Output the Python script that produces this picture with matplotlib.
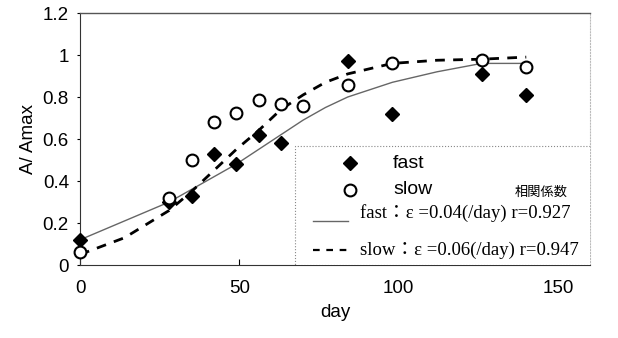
import matplotlib.pyplot as plt
from matplotlib.lines import Line2D
from matplotlib.patches import Rectangle

# measured data (day, A/Amax)
fast_day = [0, 28, 35, 42, 49, 56, 63, 84, 98, 126, 140]
fast_val = [0.12, 0.30, 0.33, 0.53, 0.48, 0.62, 0.58, 0.97, 0.72, 0.91, 0.81]

slow_day = [0, 28, 35, 42, 49, 56, 63, 70, 84, 98, 126, 140]
slow_val = [0.06, 0.32, 0.50, 0.68, 0.725, 0.785, 0.765, 0.757, 0.857, 0.963, 0.976, 0.944]

# fitted curves
fit_day = [0, 14, 28, 35, 42, 49, 56, 63, 70, 77, 84, 98, 112, 126, 140]
fit_fast = [0.12, 0.21, 0.30, 0.36, 0.42, 0.48, 0.55, 0.62, 0.69, 0.75, 0.80, 0.87, 0.92, 0.96, 0.96]
fit_slow = [0.05, 0.13, 0.26, 0.35, 0.45, 0.55, 0.64, 0.74, 0.81, 0.87, 0.91, 0.96, 0.975, 0.98, 0.99]

x_ticks = [0, 50, 100, 150]
y_ticks = [0, 0.2, 0.4, 0.6, 0.8, 1, 1.2]
y_ticklabels = ['0', '0.2', '0.4', '0.6', '0.8', '1', '1.2']

sans = 'Liberation Sans'
serif = ['Liberation Serif', 'Noto Sans CJK JP']

fig = plt.figure(figsize=(6.18, 3.38), dpi=100)
ax = fig.add_axes([80/618, 1-265/338, 510/618, 252/338])

ax.plot(fit_day, fit_fast, color='#666666', lw=1.0, zorder=2)
ax.plot(fit_day, fit_slow, color='black', lw=2.0, dashes=(3.5, 3), zorder=2)
ax.plot(fast_day, fast_val, 'D', color='black', ms=7, ls='none', zorder=3,
        clip_on=False)
ax.plot(slow_day, slow_val, 'o', mfc='white', mec='black', mew=1.5, ms=8.5,
        ls='none', zorder=3, clip_on=False)

ax.set_xlim(0, 160)
ax.set_ylim(0, 1.2)
ax.set_xticks(x_ticks)
ax.set_yticks(y_ticks)
ax.set_yticklabels(y_ticklabels)
for lab in ax.get_xticklabels() + ax.get_yticklabels():
    lab.set_family(sans)
    lab.set_fontsize(13.5)
ax.tick_params(axis='x', direction='in', length=4, pad=11)
ax.tick_params(axis='y', direction='out', length=2, pad=6)

ax.set_xlabel('day', family=sans, fontsize=13.5, labelpad=5)
ax.set_ylabel('A/ Amax', family=sans, fontsize=13.5, labelpad=4)

ax.spines['top'].set_color('#555555')
ax.spines['top'].set_linewidth(1.0)
ax.spines['right'].set_color('#bbbbbb')
ax.spines['right'].set_linestyle(':')
ax.spines['left'].set_color('#333333')
ax.spines['bottom'].set_color('#333333')

# legend box drawn by hand (axes coordinates)
def ax_xy(px, py):
    return ((px - 80) / 510, (265 - py) / 252)

x0, y0 = ax_xy(295, 265)
x1, y1 = ax_xy(592, 146)
ax.add_patch(Rectangle((x0, y0), x1 - x0, y1 - y0, transform=ax.transAxes,
                       facecolor='white', edgecolor='#888888', lw=0.8,
                       ls=':', zorder=4))

mx, my = ax_xy(350, 163)
ax.plot([mx], [my], 'D', color='black', ms=7, transform=ax.transAxes, zorder=5)
tx, _ = ax_xy(393, 0)
ax.text(tx, my, 'fast', transform=ax.transAxes, family=sans, fontsize=14,
        va='center', zorder=5)

_, my2 = ax_xy(0, 190)
ax.plot([mx], [my2], 'o', mfc='white', mec='black', mew=1.5, ms=8.5,
        transform=ax.transAxes, zorder=5)
ax.text(tx, my2, 'slow', transform=ax.transAxes, family=sans, fontsize=14,
        va='center', zorder=5)
kx, ky = ax_xy(515, 192)
ax.text(kx, ky, '相関係数', transform=ax.transAxes, family='Noto Sans CJK JP',
        fontsize=9.5, va='center', zorder=5)

lx0, ly1 = ax_xy(313, 221)
lx1, _ = ax_xy(348, 0)
ax.add_line(Line2D([lx0, lx1], [ly1, ly1], color='#666666', lw=1.0,
                   transform=ax.transAxes, zorder=5))
sx, _ = ax_xy(360, 0)
_, ty1 = ax_xy(0, 213)
ax.text(sx, ty1, 'fast：ε =0.04(/day) r=0.927', transform=ax.transAxes,
        family=serif, fontsize=13.5, va='center', zorder=5)

_, ly2 = ax_xy(0, 250)
ax.add_line(Line2D([lx0, lx1], [ly2, ly2], color='black', lw=1.6,
                   dashes=(3, 3), transform=ax.transAxes, zorder=5))
ax.text(sx, ly2, 'slow：ε =0.06(/day) r=0.947', transform=ax.transAxes,
        family=serif, fontsize=13.5, va='center', zorder=5)

fig.savefig('out.png', dpi=100)
